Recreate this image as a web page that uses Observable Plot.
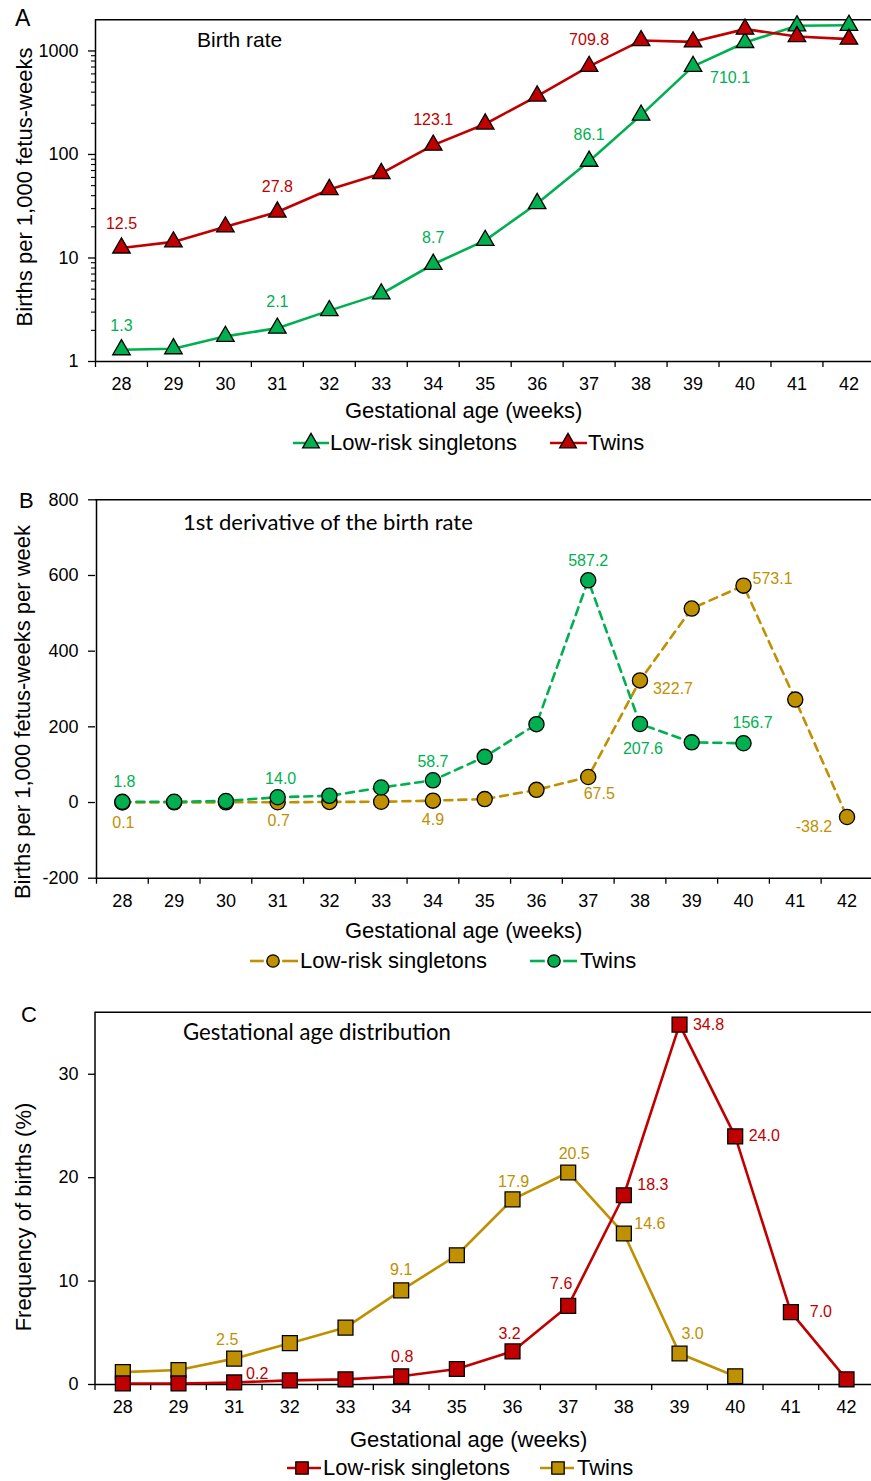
<!DOCTYPE html>
<html>
<head>
<meta charset="utf-8">
<script src="https://cdn.jsdelivr.net/npm/d3@7"></script>
<script src="https://cdn.jsdelivr.net/npm/@observablehq/plot@0.6"></script>
<style>
  html, body { margin: 0; padding: 0; background: #fff; overflow: hidden; }
  #root { position: relative; width: 871px; height: 1481px; overflow: hidden; font-family: "Liberation Sans", Arial, Helvetica, sans-serif; }
  .abs { position: absolute; white-space: nowrap; line-height: 1; }
  .panel { position: absolute; left: 0; }
</style>
</head>
<body>
<div id="root"></div>
<script>
// ---------------- DATA ----------------
const weeksAB = ["28","29","30","31","32","33","34","35","36","37","38","39","40","41","42"];
const seriesNames = ["Low-risk singletons", "Twins"];

// Panel A: birth rate (births per 1,000 fetus-weeks), log scale
const birthRateSingletons = [1.3, 1.33, 1.75, 2.1, 3.1, 4.5, 8.7, 14.8, 33.6, 86.1, 240, 710.1, 1208, 1750, 1770];
const birthRateTwins      = [12.5, 14.3, 20, 27.8, 45.9, 65.6, 123.1, 197, 367, 709.8, 1260, 1225, 1625, 1380, 1300];

// Panel B: 1st derivative of the birth rate
const derivSingletons = [0.1, 0.5, 0.5, 0.7, 1.5, 2.0, 4.9, 9.0, 33.5, 67.5, 322.7, 512.6, 573.1, 272, -38.2];
const derivTwins      = [1.8, 2.0, 4.0, 14.0, 17.7, 39.6, 58.7, 120.7, 207, 587.2, 207.6, 159, 156.7, null, null];

// Panel C: gestational age distribution (%), tick labels as printed
const weeksC = ["28","29","31","32","33","34","35","36","37","38","39","40","41","42"];
const distSingletons = [0.1, 0.1, 0.2, 0.4, 0.5, 0.8, 1.5, 3.2, 7.6, 18.3, 34.8, 24.0, 7.0, 0.5];
const distTwins      = [1.2, 1.4, 2.5, 4.0, 5.5, 9.1, 12.5, 17.9, 20.5, 14.6, 3.0, 0.8, null, null];

// Axis ticks
const ticksA = [1, 10, 100, 1000];
const minorTicksA = [2,3,4,5,6,7,8,9,20,30,40,50,60,70,80,90,200,300,400,500,600,700,800,900];
const ticksB = [-200, 0, 200, 400, 600, 800];
const ticksC = [0, 10, 20, 30];

// Which points carry a value label (placement offsets only)
const labelsA = [
  ["Twins","28",0,-24],["Twins","31",0,-25],["Twins","34",0,-25],["Twins","37",0,-26],
  ["Low-risk singletons","28",0,-24],["Low-risk singletons","31",0,-26],["Low-risk singletons","34",0,-26],
  ["Low-risk singletons","37",0,-26],["Low-risk singletons","39",37,12]
];
const labelsB = [
  ["Twins","28",2,-20],["Twins","31",3,-18],["Twins","34",0,-18],["Twins","37",0,-19],["Twins","38",3,25],["Twins","40",9,-20],
  ["Low-risk singletons","28",1,20],["Low-risk singletons","31",1,19],["Low-risk singletons","34",0,19],
  ["Low-risk singletons","37",11,17],["Low-risk singletons","38",33,8],["Low-risk singletons","40",29,-7],["Low-risk singletons","42",-33,10]
];
const labelsC = [
  ["Twins","31",-7,-19],["Twins","34",0,-21],["Twins","36",1,-18],["Twins","37",6,-19],["Twins","38",26,-10],["Twins","39",13,-20],
  ["Low-risk singletons","31",23,-9],["Low-risk singletons","34",1,-19],["Low-risk singletons","36",-3,-18],
  ["Low-risk singletons","37",-7,-22],["Low-risk singletons","38",29,-10],["Low-risk singletons","39",29,0],
  ["Low-risk singletons","40",29,0],["Low-risk singletons","41",30,0]
];

// ---------------- STYLE ----------------
const FONT = "'Liberation Sans', Arial, Helvetica, sans-serif";
const CAL = "Lato, 'Open Sans', sans-serif";
const GREEN = "#00B050", RED = "#C00000", GOLD = "#BF9000";
const fmt = v => v.toFixed(1);
const root = document.getElementById("root");

function makeRows(weeks, series, values) {
  return values.map((v, i) => ({series, week: weeks[i], i, value: v})).filter(d => d.value != null);
}

function addText(t, x, cy, size, o = {}) {
  const el = document.createElement("div");
  el.className = "abs";
  el.textContent = t;
  el.style.fontSize = size + "px";
  el.style.color = o.color || "#000";
  el.style.fontFamily = o.family || FONT;
  el.style.left = x + "px";
  el.style.top = cy + "px";
  const tx = o.anchor === "middle" ? "-50%" : o.anchor === "end" ? "-100%" : "0";
  el.style.transform = o.rotate ? "translate(-50%,-50%) rotate(-90deg)" : `translate(${tx},-50%)`;
  root.appendChild(el);
  if (o.fitWidth) {
    const w = el.getBoundingClientRect().width;
    el.style.fontSize = (size * o.fitWidth / w) + "px";
  }
  return el;
}

function panel(cfg) {
  const {top, height, marginTop, marginBottom, weeks, xRange, y, yTicks, yMinor, order, colors, symbol, r, dash, labels} = cfg;
  const n = weeks.length;
  const marks = [];
  marks.push(Plot.ruleY([y.domain[1]], {stroke: "#000", strokeWidth: 1.5}));
  marks.push(Plot.ruleY([y.domain[0]], {stroke: "#000", strokeWidth: 1.5}));
  marks.push(Plot.ruleX([-0.5], {stroke: "#000", strokeWidth: 1.5}));
  marks.push(Plot.axisX(d3.range(-0.5, n, 1), {tickSize: 6, tickFormat: () => "", label: null, stroke: "#000", strokeWidth: 1.3}));
  marks.push(Plot.axisX(d3.range(n), {tickSize: 0, tickPadding: 16, tickFormat: i => weeks[i], label: null, fontSize: 18, fill: "#000", fontFamily: FONT}));
  marks.push(Plot.axisY(yTicks, {tickSize: 7, tickPadding: 10, tickFormat: d => String(d), label: null, fontSize: 18, fill: "#000", stroke: "#000", strokeWidth: 1.3, fontFamily: FONT}));
  if (yMinor) marks.push(Plot.axisY(yMinor, {tickSize: 4, tickFormat: () => "", label: null, stroke: "#000", strokeWidth: 1.1}));
  for (const s of order) {
    const rows = s.rows;
    marks.push(Plot.line(rows, {x: "i", y: "value", stroke: "series", strokeWidth: 2.6, strokeDasharray: dash || null}));
    marks.push(Plot.dot(rows, {x: "i", y: "value", fill: "series", stroke: "#000", strokeWidth: 1.3, symbol, r}));
  }
  const allRows = order.flatMap(s => s.rows);
  for (const [series, week, dx, dy] of labels) {
    const row = allRows.find(d => d.series === series && d.week === week);
    marks.push(Plot.text([row], {x: "i", y: "value", text: d => fmt(d.value), fill: "series", dx, dy, fontSize: 16, fontFamily: FONT}));
  }
  const svg = Plot.plot({
    width: 871, height, marginLeft: 95, marginRight: 0, marginTop, marginBottom,
    x: {type: "linear", domain: [-0.5, n - 0.5], range: xRange},
    y,
    color: {domain: seriesNames, range: colors},
    style: {fontFamily: FONT, fontSize: "16px", color: "#000", background: "transparent", overflow: "visible"},
    marks
  });
  const wrap = document.createElement("div");
  wrap.className = "panel";
  wrap.style.top = top + "px";
  wrap.appendChild(svg);
  root.appendChild(wrap);
}

// Panel A
const rowsAS = makeRows(weeksAB, seriesNames[0], birthRateSingletons);
const rowsAT = makeRows(weeksAB, seriesNames[1], birthRateTwins);
panel({
  top: 0, height: 395, marginTop: 19.3, marginBottom: 34,
  weeks: weeksAB, xRange: [95, 95 + 15 * 51.96],
  y: {type: "log", domain: [1, 2000]},
  yTicks: ticksA, yMinor: minorTicksA,
  order: [{rows: rowsAS}, {rows: rowsAT}],
  colors: [GREEN, RED], symbol: "triangle", r: 6.5, labels: labelsA
});

// Panel B
const rowsBS = makeRows(weeksAB, seriesNames[0], derivSingletons);
const rowsBT = makeRows(weeksAB, seriesNames[1], derivTwins);
panel({
  top: 480, height: 430, marginTop: 19.3, marginBottom: 32.3,
  weeks: weeksAB, xRange: [96, 96 + 15 * 51.76],
  y: {type: "linear", domain: [-200, 800]},
  yTicks: ticksB,
  order: [{rows: rowsBS}, {rows: rowsBT}],
  colors: [GOLD, GREEN], symbol: "circle", r: 7.6, dash: "8,6", labels: labelsB
});

// Panel C
const rowsCS = makeRows(weeksC, seriesNames[0], distSingletons);
const rowsCT = makeRows(weeksC, seriesNames[1], distTwins);
panel({
  top: 990, height: 430, marginTop: 21.7, marginBottom: 36,
  weeks: weeksC, xRange: [94.5, 94.5 + 14 * 55.67],
  y: {type: "linear", domain: [0, 36]},
  yTicks: ticksC,
  order: [{rows: rowsCT}, {rows: rowsCS}],
  colors: [RED, GOLD], symbol: "square", r: 8.4, labels: labelsC
});

// ---------------- TEXT ----------------
addText("A", 15, 18, 23);
addText("B", 19, 501, 22);
addText("C", 21, 1015, 22);

addText("Birth rate", 197, 39, 21);
addText("1st derivative of the birth rate", 183, 522, 22, {family: CAL, fitWidth: 290});
addText("Gestational age distribution", 183, 1032, 22, {family: CAL, fitWidth: 268});

addText("Births per 1,000 fetus-weeks", 25, 187, 22, {rotate: true});
addText("Births per 1,000 fetus-weeks per week", 22.5, 712, 22, {rotate: true});
addText("Frequency of births (%)", 24, 1217, 22, {rotate: true});

addText("Gestational age (weeks)", 345, 411, 22);
addText("Gestational age (weeks)", 345, 931, 22);
addText("Gestational age (weeks)", 350, 1440, 22);

addText("Low-risk singletons", 330, 443, 22);
addText("Twins", 588, 443, 22);
addText("Low-risk singletons", 300, 961, 22);
addText("Twins", 580, 961, 22);
addText("Low-risk singletons", 323, 1468, 22);
addText("Twins", 577, 1468, 22);

const ov = d3.select(root).append("svg")
  .attr("width", 871).attr("height", 1481)
  .style("position", "absolute").style("left", 0).style("top", 0).style("pointer-events", "none");
function swatch(x1, x2, cx, cy, color, sym, r, dash) {
  const g = ov.append("g");
  if (dash) {
    g.append("line").attr("x1", x1).attr("x2", cx - r - 3).attr("y1", cy).attr("y2", cy).attr("stroke", color).attr("stroke-width", 2.6);
    g.append("line").attr("x1", cx + r + 3).attr("x2", x2).attr("y1", cy).attr("y2", cy).attr("stroke", color).attr("stroke-width", 2.6);
  } else {
    g.append("line").attr("x1", x1).attr("x2", x2).attr("y1", cy).attr("y2", cy).attr("stroke", color).attr("stroke-width", 2.6);
  }
  g.append("path").attr("d", d3.symbol(sym, Math.PI * r * r)()).attr("transform", `translate(${cx},${cy})`)
    .attr("fill", color).attr("stroke", "#000").attr("stroke-width", 1.3);
}
swatch(293, 329, 311, 443, GREEN, d3.symbolTriangle, 6.2);
swatch(550, 587, 568, 443, RED, d3.symbolTriangle, 6.2);
swatch(250, 298, 273, 961, GOLD, d3.symbolCircle, 6.2, true);
swatch(530, 577, 554, 961, GREEN, d3.symbolCircle, 6.2, true);
swatch(287, 321, 302, 1468, RED, d3.symbolSquare, 7);
swatch(540, 574, 558, 1468, GOLD, d3.symbolSquare, 7);
</script>
</body>
</html>
